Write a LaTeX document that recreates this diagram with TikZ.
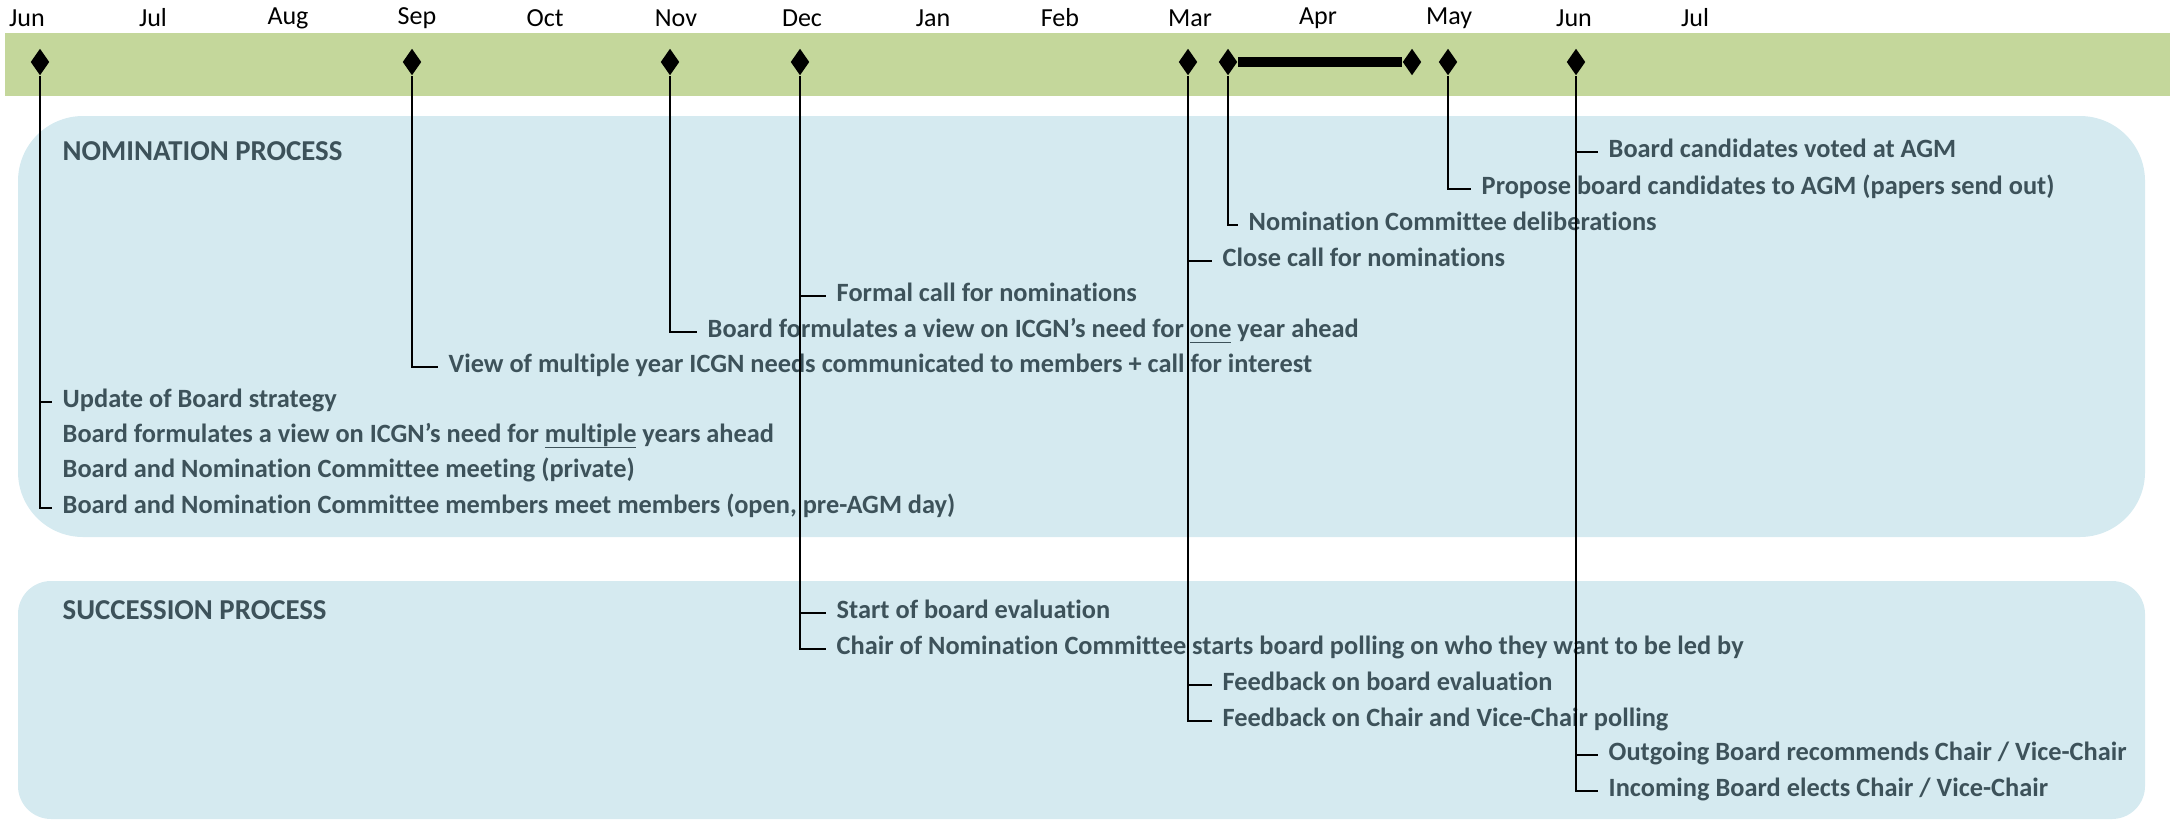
\documentclass[tikz,border=0pt]{standalone}
\usepackage{fontspec}
\setmainfont{Carlito}[Ligatures={NoCommon,NoRequired,NoContextual}]
\usetikzlibrary{shapes.geometric}
\definecolor{band}{HTML}{C4D79B}
\definecolor{panel}{HTML}{D5EAF0}
\definecolor{slate}{HTML}{3D525A}
\newcommand{\stress}[1]{\underline{\smash{#1}}}
\tikzset{
  month/.style = {font=\fontsize{7.4}{9}\selectfont},
  milestone/.style = {diamond,fill=black,inner sep=0pt,minimum width=0.19cm,minimum height=0.27cm},
  item/.style = {anchor=west,inner sep=0pt,yshift=-0.4mm,text=slate,font=\fontsize{7.5}{9}\bfseries\selectfont,text height=1.6mm,text depth=0.5mm},
  heading/.style = {item,font=\fontsize{8.2}{10}\bfseries\selectfont},
  stem/.style = {line width=0.8pt,shorten >=0.1cm}
}

\begin{document}
\begin{tikzpicture}[x=0.01cm,y=-0.01cm]
  \useasboundingbox (0,0) rectangle (2170,821);
  \fill[band] (5,33) rectangle (2170,96);
  \fill[panel,rounded corners=0.65cm] (18,116) rectangle (2145,537);
  \fill[panel,rounded corners=0.33cm] (18,581) rectangle (2145,819);
  \foreach \x/\m [count=\i] in {27/Jun,153/Jul,288/Aug,417/Sep,545/Oct,676/Nov,802/Dec,933/Jan,1060/Feb,1190/Mar,1318/Apr,1449/May,1574/Jun,1695/Jul}
    \node[month] (m\i) at (\x,18) {\m};

  \node[milestone] (dJunA) at (40,62) {};
  \node[milestone] (dSep) at (412,62) {};
  \node[milestone] (dNov) at (670,62) {};
  \node[milestone] (dDec) at (800,62) {};
  \node[milestone] (dMar) at (1188,62) {};
  \node[milestone] (dApr) at (1228,62) {};
  \node[milestone] (dAprEnd) at (1412,62) {};
  \node[milestone] (dMay) at (1448,62) {};
  \node[milestone] (dJunB) at (1576,62) {};
  \draw[line width=0.1cm] (dApr) -- (dAprEnd);

  \node[heading] (nomHead) at (62,151) {NOMINATION PROCESS};
  \node[item] (n1) at (1608,148) {Board candidates voted at AGM};
  \node[item] (n2) at (1481,185) {Propose board candidates to AGM (papers send out)};
  \node[item] (n3) at (1248,221) {Nomination Committee deliberations};
  \node[item] (n4) at (1222,257) {Close call for nominations};
  \node[item] (n5) at (836,292) {Formal call for nominations};
  \node[item] (n6) at (707,328) {Board formulates a view on ICGN’s need for \stress{one} year ahead};
  \node[item] (n7) at (448,363) {View of multiple year ICGN needs communicated to members + call for interest};
  \node[item] (n8) at (62,398) {Update of Board strategy};
  \node[item] (n9) at (62,433) {Board formulates a view on ICGN’s need for \stress{multiple} years ahead};
  \node[item] (n10) at (62,468) {Board and Nomination Committee meeting (private)};
  \node[item] (n11) at (62,504) {Board and Nomination Committee members meet members (open, pre-AGM day)};

  \node[heading] (sucHead) at (62,610) {SUCCESSION PROCESS};
  \node[item] (s1) at (836,609) {Start of board evaluation};
  \node[item] (s2) at (836,645) {Chair of Nomination Committee starts board polling on who they want to be led by};
  \node[item] (s3) at (1222,681) {Feedback on board evaluation};
  \node[item] (s4) at (1222,717) {Feedback on Chair and Vice-Chair polling};
  \node[item] (s5) at (1608,751) {Outgoing Board recommends Chair / Vice-Chair};
  \node[item] (s6) at (1608,787) {Incoming Board elects Chair / Vice-Chair};

  \draw[stem] (dJunA.south) |- (n8.west);
  \draw[stem] (dJunA.south) |- (n11.west);
  \draw[stem] (dSep.south) |- (n7.west);
  \draw[stem] (dNov.south) |- (n6.west);
  \foreach \t in {n5,s1,s2} \draw[stem] (dDec.south) |- (\t.west);
  \foreach \t in {n4,s3,s4} \draw[stem] (dMar.south) |- (\t.west);
  \draw[stem] (dApr.south) |- (n3.west);
  \draw[stem] (dMay.south) |- (n2.west);
  \foreach \t in {n1,s5,s6} \draw[stem] (dJunB.south) |- (\t.west);
\end{tikzpicture}
\end{document}
